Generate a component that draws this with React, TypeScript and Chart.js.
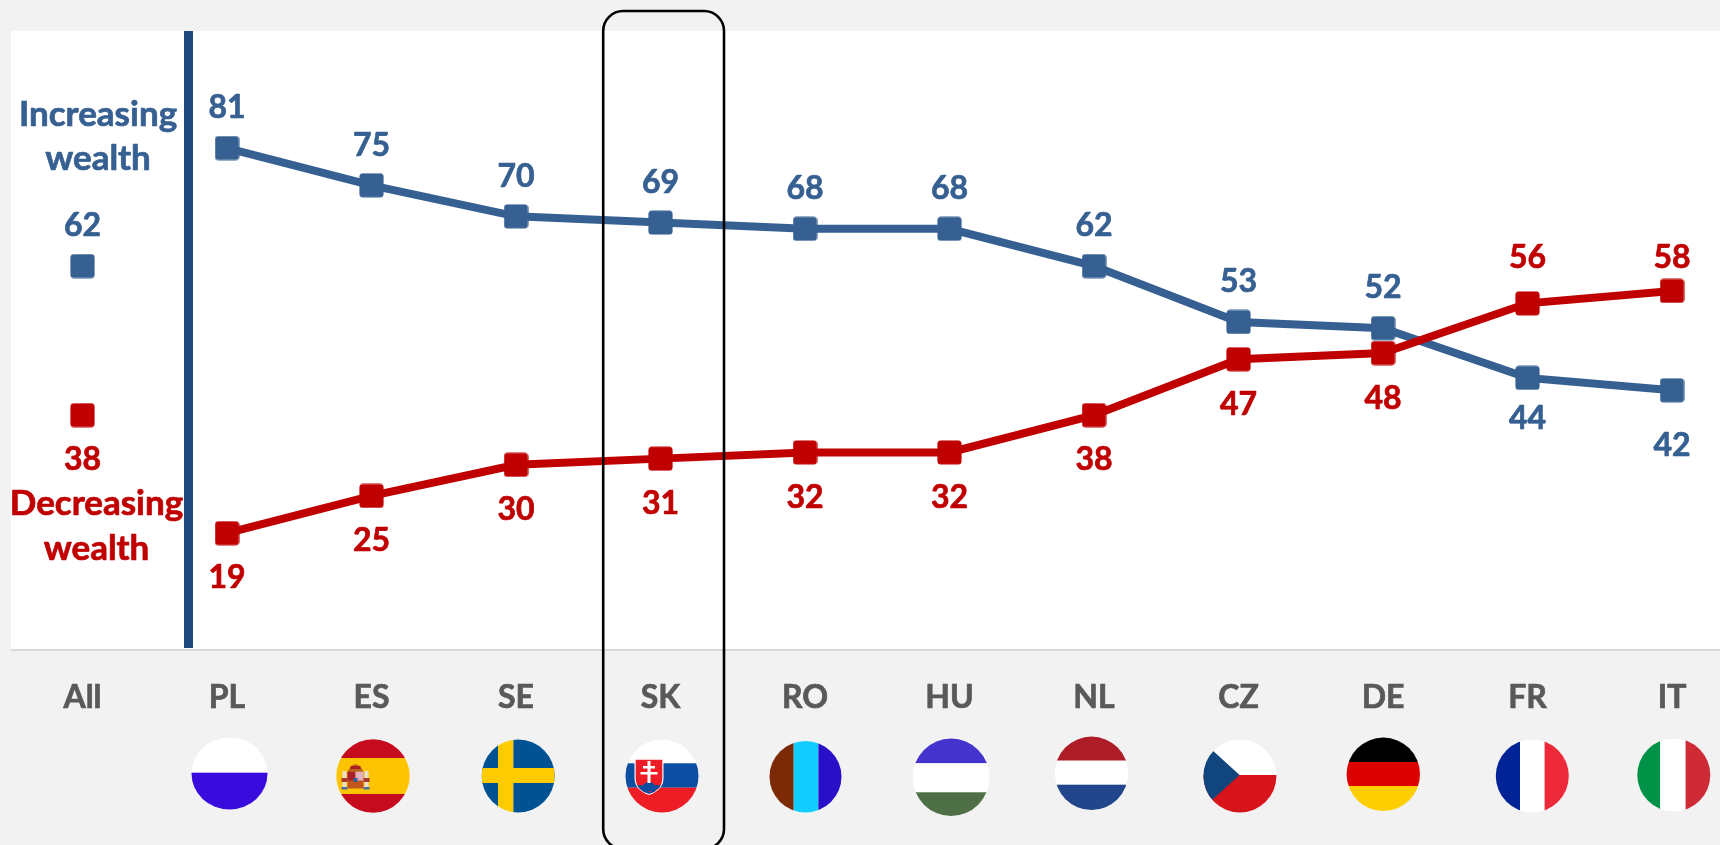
import React, { useEffect, useRef } from "react";
import { Chart, registerables } from "chart.js";

Chart.register(...registerables);

const categories = ["All", "PL", "ES", "SE", "SK", "RO", "HU", "NL", "CZ", "DE", "FR", "IT"];
const increasing = [null, 81, 75, 70, 69, 68, 68, 62, 53, 52, 44, 42];
const decreasing = [null, 19, 25, 30, 31, 32, 32, 38, 47, 48, 56, 58];
const increasingAll = [62];
const decreasingAll = [38];

// Label offsets from the marker, in px (blue / red), index by category
const blueLabelDy = [-40, -40, -40, -40, -40, -40, -40, -40, -40, -40, 41, 55];
const redLabelDy = [45, 45, 45, 45, 45, 45, 45, 45, 45, 46, -46, -33];

const FONT = "Lato, Carlito, Calibri, sans-serif";
const BLUE = "#376092";
const RED = "#c00000";

// Flag placement relative to the category tick
const flagPlace: Record<string, [number, number, number, number]> = {
  PL: [2.5, 773.5, 38, 36],
  ES: [1.5, 776, 36.7, 36.7],
  SE: [2.2, 776, 36.5, 36.5],
  SK: [1.5, 776, 36.5, 36.5],
  RO: [0.5, 776.7, 36, 35.7],
  HU: [1.6, 777.3, 38.4, 38.7],
  NL: [-2.5, 773.3, 36.7, 36.7],
  CZ: [1.4, 776, 36.5, 36.5],
  DE: [0.3, 774.3, 36.7, 36.7],
  FR: [4.8, 776, 36.5, 36.5],
  IT: [1.8, 775, 36.5, 36.5],
};

function hBands(ctx: CanvasRenderingContext2D, cx: number, cy: number, r: number, bands: [number, string][]) {
  let prev = cy - r - 2;
  for (const [end, color] of bands) {
    ctx.fillStyle = color;
    ctx.fillRect(cx - r - 2, prev, 2 * r + 4, end - prev);
    prev = end;
  }
}
function vBands(ctx: CanvasRenderingContext2D, cx: number, cy: number, r: number, bands: [number, string][]) {
  let prev = cx - r - 2;
  for (const [end, color] of bands) {
    ctx.fillStyle = color;
    ctx.fillRect(prev, cy - r - 2, end - prev, 2 * r + 4);
    prev = end;
  }
}

function drawFlag(ctx: CanvasRenderingContext2D, code: string, tickX: number) {
  const [dx, cy, rx, ry] = flagPlace[code];
  const cx = tickX + dx;
  const r = Math.max(rx, ry);
  ctx.save();
  ctx.beginPath();
  ctx.ellipse(cx, cy, rx, ry, 0, 0, Math.PI * 2);
  ctx.clip();
  switch (code) {
    case "PL":
      hBands(ctx, cx, cy, r, [[cy - 0.8, "#ffffff"], [cy + r + 2, "#390bdd"]]);
      break;
    case "ES": {
      hBands(ctx, cx, cy, r, [[758, "#c60b1e"], [794, "#ffc400"], [cy + r + 2, "#c60b1e"]]);
      const l = cx - 25.5;
      // shield
      ctx.fillStyle = "#c0561c";
      ctx.fillRect(l, 771.5, 16, 17);
      ctx.fillStyle = "#a8202a";
      ctx.fillRect(l, 771.5, 8, 9);
      ctx.fillStyle = "#e3b0c0";
      ctx.fillRect(l + 8, 771.5, 8, 9);
      ctx.fillStyle = "#2f5f9a";
      ctx.fillRect(l + 6, 778, 4, 4);
      // crown
      ctx.fillStyle = "#b8631c";
      ctx.beginPath();
      ctx.moveTo(l, 771.5);
      ctx.quadraticCurveTo(l + 8, 757, l + 16, 771.5);
      ctx.fill();
      ctx.fillStyle = "#b01e24";
      ctx.fillRect(l + 3, 766, 10, 3);
      // pillars
      ctx.fillStyle = "#e8e0cc";
      ctx.fillRect(l - 5, 771, 4, 18);
      ctx.fillRect(l + 17, 771, 4, 18);
      ctx.fillStyle = "#a73a2a";
      ctx.fillRect(l - 6, 778, 6, 4);
      ctx.fillRect(l + 16, 778, 6, 4);
      ctx.fillStyle = "#4a6fa0";
      ctx.fillRect(l - 6, 787, 6, 2.5);
      ctx.fillRect(l + 16, 787, 6, 2.5);
      break;
    }
    case "SE":
      vBands(ctx, cx, cy, r, [[498, "#005293"], [513.4, "#fecb00"], [cx + r + 2, "#005293"]]);
      ctx.fillStyle = "#fecb00";
      ctx.fillRect(cx - r - 2, 768, 2 * r + 4, 15);
      break;
    case "SK": {
      hBands(ctx, cx, cy, r, [[763.3, "#ffffff"], [787.7, "#0b4ea2"], [cy + r + 2, "#ee1c25"]]);
      const l = cx - 27.5;
      const w = 29;
      const sh = (inset: number) => {
        ctx.beginPath();
        ctx.moveTo(l + inset, 758.5 + inset);
        ctx.lineTo(l + w - inset, 758.5 + inset);
        ctx.lineTo(l + w - inset, 778);
        ctx.quadraticCurveTo(l + w - inset, 790, l + w / 2, 795 - inset);
        ctx.quadraticCurveTo(l + inset, 790, l + inset, 778);
        ctx.closePath();
      };
      sh(0);
      ctx.fillStyle = "#ffffff";
      ctx.fill();
      sh(1.2);
      ctx.fillStyle = "#ee1c25";
      ctx.fill();
      ctx.save();
      sh(1.2);
      ctx.clip();
      ctx.fillStyle = "#0b4ea2";
      ctx.beginPath();
      ctx.arc(l + w / 2, 789, 7, 0, Math.PI * 2);
      ctx.arc(l + w / 2 - 9, 792, 7, 0, Math.PI * 2);
      ctx.arc(l + w / 2 + 9, 792, 7, 0, Math.PI * 2);
      ctx.fill();
      ctx.restore();
      ctx.fillStyle = "#ffffff";
      const mx = l + w / 2;
      ctx.fillRect(mx - 1.5, 761, 3, 22);
      ctx.fillRect(mx - 6, 766, 12, 2.5);
      ctx.fillRect(mx - 8.5, 772, 17, 2.5);
      break;
    }
    case "RO":
      vBands(ctx, cx, cy, r, [[793.7, "#7b2a05"], [818.4, "#12cdff"], [cx + r + 2, "#2a0fc9"]]);
      break;
    case "HU":
      hBands(ctx, cx, cy, r, [[763.3, "#4433cc"], [792.3, "#ffffff"], [cy + r + 2, "#4f7047"]]);
      break;
    case "NL":
      hBands(ctx, cx, cy, r, [[760.7, "#ae1c28"], [784.7, "#ffffff"], [cy + r + 2, "#21468b"]]);
      break;
    case "CZ":
      hBands(ctx, cx, cy, r, [[775, "#ffffff"], [cy + r + 2, "#d7141a"]]);
      ctx.fillStyle = "#11457e";
      ctx.beginPath();
      ctx.moveTo(cx - r - 10, 775 - 42);
      ctx.lineTo(1239.6, 775);
      ctx.lineTo(cx - r - 10, 775 + 42);
      ctx.closePath();
      ctx.fill();
      break;
    case "DE":
      hBands(ctx, cx, cy, r, [[762, "#000000"], [786, "#dd0000"], [cy + r + 2, "#ffce00"]]);
      break;
    case "FR":
      vBands(ctx, cx, cy, r, [[1520, "#002395"], [1544.6, "#ffffff"], [cx + r + 2, "#ed2939"]]);
      break;
    case "IT":
      vBands(ctx, cx, cy, r, [[1660.3, "#009246"], [1685.6, "#ffffff"], [cx + r + 2, "#ce2b37"]]);
      break;
  }
  ctx.restore();
}

function squareMarker(color: string) {
  const c = document.createElement("canvas");
  c.width = 25;
  c.height = 25;
  const g = c.getContext("2d")!;
  g.fillStyle = color;
  g.beginPath();
  g.roundRect(0.4, 0.4, 24.2, 24.2, 3.5);
  g.fill();
  return c;
}

const backdrop = {
  id: "backdrop",
  beforeDraw(chart: any) {
    const { ctx } = chart;
    ctx.save();
    ctx.fillStyle = "#f2f2f2";
    ctx.fillRect(0, 0, 1720, 845);
    ctx.fillStyle = "#ffffff";
    ctx.fillRect(11, 31, 1709, 618);
    ctx.fillStyle = "#d9d9d9";
    ctx.fillRect(11, 649, 1709, 2);
    ctx.fillStyle = "#1f497d";
    ctx.fillRect(184, 31, 9, 617);
    ctx.restore();
  },
};

const overlay = {
  id: "overlay",
  afterDatasetsDraw(chart: any) {
    const { ctx } = chart;
    const x = chart.scales.x;
    ctx.save();
    categories.forEach((c, i) => {
      if (flagPlace[c]) drawFlag(ctx, c, x.getPixelForValue(i));
    });

    ctx.textAlign = "center";
    ctx.textBaseline = "middle";
    ctx.lineJoin = "round";
    const text = (s: string, px: number, py: number, color: string) => {
      ctx.fillStyle = color;
      ctx.strokeStyle = color;
      ctx.lineWidth = 0.7;
      ctx.fillText(s, px, py);
      ctx.strokeText(s, px, py);
    };
    ctx.font = `bold 32px ${FONT}`;
    const put = (dsIndex: number, color: string, dy: number[]) => {
      const meta = chart.getDatasetMeta(dsIndex);
      const data = chart.data.datasets[dsIndex].data;
      meta.data.forEach((pt: any, i: number) => {
        if (data[i] == null) return;
        text(String(data[i]), pt.x, pt.y + dy[i], color);
      });
    };
    put(0, RED, redLabelDy);
    put(1, BLUE, blueLabelDy);
    put(2, RED, redLabelDy);
    put(3, BLUE, blueLabelDy);

    ctx.font = `bold 35px ${FONT}`;
    text("Increasing", 98, 115, BLUE);
    text("wealth", 98, 159, BLUE);
    text("Decreasing", 96.5, 504, RED);
    text("wealth", 96.5, 549, RED);

    ctx.strokeStyle = "#000000";
    ctx.lineWidth = 2.6;
    ctx.beginPath();
    ctx.roundRect(603.2, 11, 120.8, 838, 20);
    ctx.stroke();
    ctx.restore();
  },
};

export default function App() {
  const ref = useRef<HTMLCanvasElement>(null);
  useEffect(() => {
    const blueMark = squareMarker(BLUE);
    const redMark = squareMarker(RED);
    const chart = new Chart(ref.current!, {
      type: "line",
      data: {
        labels: categories,
        datasets: [
          { label: "Decreasing wealth", data: decreasing, borderColor: RED, backgroundColor: RED, borderWidth: 8, pointStyle: redMark, pointRadius: 12, spanGaps: false, tension: 0, order: 1 },
          { label: "Increasing wealth", data: increasing, borderColor: BLUE, backgroundColor: BLUE, borderWidth: 8, pointStyle: blueMark, pointRadius: 12, spanGaps: false, tension: 0, order: 2 },
          { label: "Decreasing wealth (All)", data: decreasingAll, showLine: false, pointStyle: redMark, pointRadius: 12 },
          { label: "Increasing wealth (All)", data: increasingAll, showLine: false, pointStyle: blueMark, pointRadius: 12 },
        ],
      },
      options: {
        animation: false,
        responsive: false,
        events: [],
        layout: { padding: { left: 82.5, right: 48, top: 30, bottom: 108.2 } },
        plugins: { legend: { display: false }, title: { display: false }, tooltip: { enabled: false } },
        scales: {
          x: {
            offset: false,
            grid: { display: false },
            border: { display: false },
            ticks: {
              autoSkip: false,
              maxRotation: 0,
              padding: 19.6,
              color: "#595959",
              textStrokeColor: "#595959",
              textStrokeWidth: 0.7,
              font: { family: FONT, size: 32, weight: "bold" },
            },
          },
          y: { display: false, min: 0, max: 100 },
        },
      },
      plugins: [backdrop, overlay],
    } as any);
    return () => chart.destroy();
  }, []);
  return (
    <div style={{ position: "absolute", left: 0, top: 0, width: 1720, height: 845, overflow: "hidden" }}>
      <canvas ref={ref} width={1720} height={845} style={{ display: "block" }} />
    </div>
  );
}
